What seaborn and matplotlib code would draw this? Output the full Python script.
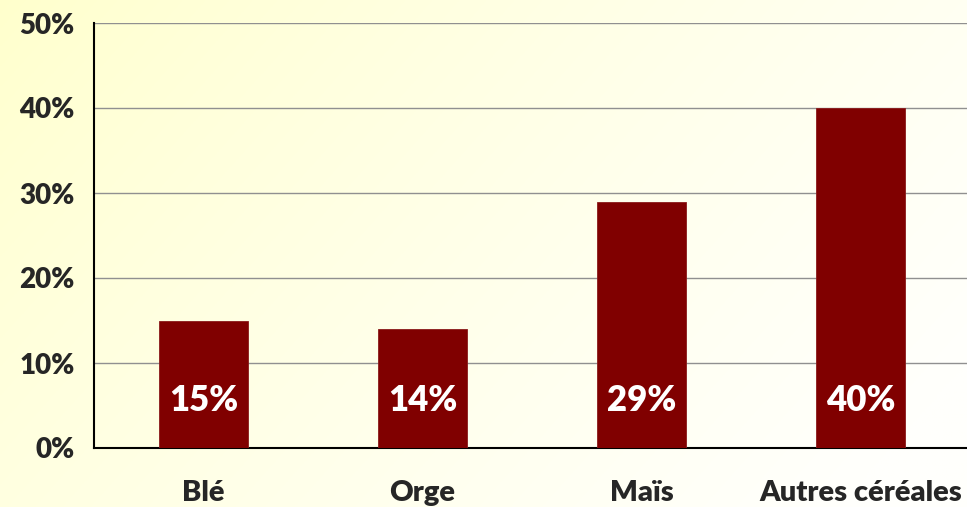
import numpy as np
import pandas as pd
import matplotlib
matplotlib.use("Agg")
import matplotlib.pyplot as plt
import seaborn as sns

categories = ["Blé", "Orge", "Maïs", "Autres céréales"]
shares = [15, 14, 29, 40]
y_ticks = [0, 10, 20, 30, 40, 50]
y_tick_labels = ["0%", "10%", "20%", "30%", "40%", "50%"]
bar_labels = ["15%", "14%", "29%", "40%"]

sns.set_style("white")
plt.rcParams["font.family"] = ["Lato", "DejaVu Sans"]

W, H, DPI = 967, 507, 100
WEIGHT = "heavy"
fig = plt.figure(figsize=(W / DPI, H / DPI), dpi=DPI)

# soft yellow wash fading from the top-left corner
bg = fig.add_axes([0, 0, 1, 1], zorder=-10)
gx, gy = np.meshgrid(np.linspace(0, 1, 400), np.linspace(0, 1, 200))
t = np.clip(0.75 * gx + 0.35 * gy, 0, 1) ** 0.8
c0 = np.array([255, 255, 204]) / 255
c1 = np.array([255, 255, 252]) / 255
img = c0[None, None, :] * (1 - t[..., None]) + c1[None, None, :] * t[..., None]
bg.imshow(img, aspect="auto", extent=[0, 1, 0, 1], origin="upper")
bg.axis("off")

ax = fig.add_axes([94 / W, 59 / H, 876 / W, 425 / H])
ax.set_facecolor("none")

df = pd.DataFrame({"categorie": categories, "part": shares})
sns.barplot(data=df, x="categorie", y="part", color="#800000",
            width=0.41, saturation=1, ax=ax, zorder=3)
for p in ax.patches:
    p.set_edgecolor("#8a1a1a")
    p.set_linewidth(0.6)

ax.set_xlim(-0.5, 3.5)
ax.set_ylim(0, 50)
ax.set_yticks(y_ticks)
ax.set_yticklabels(y_tick_labels, fontsize=20, fontweight=WEIGHT)
ax.yaxis.grid(True, color="#909090", linewidth=1.0, zorder=0)
ax.set_axisbelow(True)

ax.set_xticks(range(len(categories)))
ax.set_xticklabels(categories, fontsize=21, fontweight=WEIGHT)
ax.set_xticks(np.arange(-0.5, 4, 1), minor=True)
ax.tick_params(axis="x", which="major", length=0, pad=23)
ax.tick_params(axis="x", which="minor", length=9, width=1.5, direction="out", color="black")
ax.tick_params(axis="y", length=8, width=1.5, direction="out", color="black", pad=6)
ax.set_xlabel("")
ax.set_ylabel("")

for s in ["top", "right"]:
    ax.spines[s].set_visible(False)
for s in ["left", "bottom"]:
    ax.spines[s].set_color("black")
    ax.spines[s].set_linewidth(1.5)

for i, lab in enumerate(bar_labels):
    ax.text(i, 5.6, lab, ha="center", va="center", color="white",
            fontsize=25, fontweight=WEIGHT, zorder=5)

fig.savefig("out.png", dpi=DPI)
